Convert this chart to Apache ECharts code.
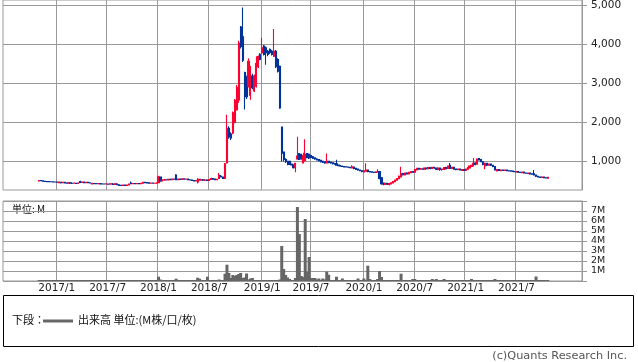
<!DOCTYPE html>
<html><head><meta charset="utf-8">
<script src="https://cdn.jsdelivr.net/npm/echarts@6/dist/echarts.min.js"></script>
<style>html,body{margin:0;padding:0;background:#fff}#c{width:638px;height:362px}</style>
</head><body><div id="c"></div>
<script>
// Axis span: weekly categories starting Monday 2016-06-27
const firstWeek = [2016, 6, 27];
const weekCount = 296;
const dataStartWeek = 18; // first candle: week of 2016-10-31
const tickLabels = ['2017/1','2017/7','2018/1','2018/7','2019/1','2019/7','2020/1','2020/7','2021/1','2021/7'];
const priceTicks = [1000, 2000, 3000, 4000, 5000];

const opens = [
500,510,500,490,485,480,478,475,472,470,
455,465,450,460,445,440,448,440,438,440,
435,480,460,468,455,460,450,420,432,428,
425,430,422,420,418,420,415,425,420,410,
420,400,385,380,390,385,395,445,425,430,
425,430,425,440,462,455,448,440,445,438,
440,455,600,500,520,530,520,540,530,545,
650,530,545,535,550,540,548,530,520,510,
500,470,540,520,530,515,520,510,535,560,
545,530,560,620,600,560,960,1850,1700,1730,
2000,2330,2580,4450,4200,3280,3130,2930,2700,3190,
2810,2930,3430,3750,3790,3960,3920,3830,3880,3830,
3700,3830,3615,3440,1880,1240,1050,1000,1000,930,
910,850,1060,1200,1180,960,1020,1200,1180,1150,
1120,1090,1060,1050,1030,1000,990,960,1000,975,
965,945,940,905,890,880,870,860,855,850,
830,855,820,800,780,760,730,750,780,740,
730,720,715,720,740,580,440,410,440,410,
420,445,475,515,555,600,690,650,700,680,
710,740,720,780,820,800,810,800,830,815,
840,820,850,830,790,830,790,790,840,820,
900,820,850,800,790,800,770,790,770,800,
830,870,890,960,930,1070,1050,990,880,950,
900,930,900,870,760,790,760,780,765,780,
760,755,750,740,730,740,720,710,725,700,
690,700,680,680,650,620,600,585,600,580,570];
const closes = [
510,505,490,485,480,478,475,472,470,465,
470,450,462,445,440,450,440,438,442,432,
445,460,470,455,462,450,445,435,428,425,
430,422,420,418,422,415,425,420,410,425,
400,385,380,390,385,395,420,425,430,425,
430,425,440,465,455,448,440,445,438,440,
450,600,500,520,530,520,540,530,545,540,
530,545,535,550,540,548,530,520,510,500,
505,540,520,530,515,520,510,535,560,545,
530,540,640,600,560,940,1850,1630,1600,2250,
2570,2900,4040,3950,3600,2800,2660,3570,3400,2890,
3190,3510,3690,3620,3920,3745,3790,3745,3800,3745,
3830,3430,3315,2370,1210,1050,1000,920,930,910,
840,950,1140,1050,1060,1150,1180,1100,1090,1100,
1080,1060,1040,1020,990,980,960,1000,970,960,
940,930,905,890,880,870,860,855,850,840,
860,820,800,780,760,740,760,780,740,730,
720,715,730,740,560,430,420,440,415,430,
450,480,520,560,620,680,660,700,680,720,
740,720,790,820,800,810,800,830,815,840,
820,850,830,800,830,790,800,840,810,880,
820,850,800,790,800,780,790,770,800,840,
880,900,950,920,1060,1040,990,920,950,900,
930,900,870,780,790,770,780,770,780,760,
755,750,740,735,740,720,715,725,700,695,
700,680,670,650,620,600,590,600,580,575,590];
const lows = [
490,495,480,475,470,468,465,462,460,450,
440,430,440,435,430,432,430,430,430,425,
428,455,450,448,445,440,435,410,420,418,
418,415,412,410,410,408,405,412,400,400,
390,375,370,372,375,378,390,415,418,415,
418,418,420,435,445,440,432,432,428,428,
432,450,480,490,505,510,515,520,520,530,
520,520,525,525,528,530,520,510,498,490,
490,430,510,505,500,500,495,505,525,535,
520,520,550,590,550,550,950,1580,1550,1700,
1980,2300,2500,3900,3550,2330,2600,2900,2580,2850,
2780,2900,3400,3600,3760,3720,3480,3700,3760,3720,
3680,3400,3280,2350,1000,1000,960,900,910,900,
820,720,1040,1040,1040,950,1000,1080,1060,1080,
1060,1040,1020,1000,970,960,940,950,950,940,
920,915,895,875,865,855,845,840,835,825,
820,800,780,760,745,720,720,740,720,715,
705,700,705,710,540,400,390,395,395,380,
410,440,470,510,550,590,640,640,660,670,
700,705,710,770,785,790,785,790,800,805,
800,810,810,780,770,760,760,780,790,810,
810,810,790,770,775,765,760,755,760,790,
820,860,870,900,920,1020,980,900,800,880,
890,880,850,770,740,750,750,755,755,745,
740,735,725,720,720,705,700,700,690,680,
680,665,655,640,600,585,575,575,565,560,560];
const highs = [
520,520,505,495,490,488,485,482,480,478,
475,470,468,465,450,455,452,445,448,445,
452,500,475,472,468,465,455,440,438,432,
435,435,428,425,428,425,430,430,425,440,
425,405,392,395,398,400,430,485,438,435,
440,436,445,475,470,460,455,452,450,448,
460,630,610,540,545,540,550,552,560,560,
670,560,555,560,560,555,552,535,525,515,
512,575,545,540,535,530,528,545,580,565,
550,548,700,650,610,960,2200,1900,1750,2280,
2600,2960,4100,4480,4950,3300,3200,3650,3450,3250,
3230,3700,3720,3780,4175,3990,3950,3860,3900,3860,
4400,3860,3650,3460,1880,1250,1080,1010,1010,940,
920,960,1630,1210,1190,1220,1570,1210,1200,1170,
1140,1100,1080,1060,1040,1010,1000,1200,1010,990,
975,960,1040,915,900,890,880,870,865,860,
900,862,830,810,790,770,780,950,790,750,
740,730,740,800,750,600,460,450,450,440,
460,490,530,570,640,860,700,710,720,730,
750,750,800,830,830,830,820,840,840,850,
850,860,860,840,850,840,810,850,860,890,
960,860,855,810,810,810,800,800,810,850,
890,910,1090,980,1070,1090,1060,1000,960,960,
940,940,910,880,800,800,790,790,790,785,
770,765,760,750,750,750,730,735,730,710,
710,710,690,780,660,630,610,620,610,590,600];
const volumesM = [
0.1,0.05,0.03,0.02,0.02,0.03,0.02,0.02,0.03,0.05,
0.05,0.04,0.03,0.04,0.02,0.03,0.03,0.02,0.03,0.04,
0.05,0.08,0.05,0.04,0.03,0.03,0.02,0.04,0.03,0.02,
0.02,0.03,0.02,0.02,0.03,0.02,0.04,0.03,0.03,0.06,
0.04,0.05,0.03,0.03,0.04,0.05,0.08,0.1,0.05,0.04,
0.03,0.04,0.05,0.08,0.05,0.04,0.03,0.04,0.03,0.04,
0.06,0.43,0.15,0.08,0.06,0.05,0.07,0.05,0.06,0.08,
0.23,0.08,0.06,0.07,0.05,0.05,0.06,0.05,0.04,0.05,
0.05,0.33,0.23,0.06,0.05,0.05,0.43,0.08,0.1,0.06,
0.08,0.1,0.15,0.08,0.1,0.73,1.63,0.8,0.3,0.6,
0.5,0.6,0.7,0.8,0.3,0.35,0.75,0.15,0.25,0.3,
0.1,0.08,0.06,0.05,0.05,0.05,0.04,0.05,0.04,0.05,
0.1,0.06,0.08,0.15,3.5,1.2,0.6,0.35,0.2,0.08,
0.1,0.3,7.4,4.7,0.5,0.4,6.2,0.9,2.4,0.3,
0.3,0.3,0.15,0.25,0.1,0.25,0.15,0.93,0.63,0.1,
0.08,0.1,0.43,0.1,0.08,0.25,0.06,0.05,0.06,0.05,
0.1,0.06,0.05,0.25,0.06,0.05,0.25,0.1,1.53,0.2,
0.1,0.08,0.08,0.2,1.0,0.4,0.1,0.08,0.06,0.05,
0.05,0.06,0.05,0.08,0.1,0.73,0.1,0.05,0.06,0.05,
0.05,0.2,0.2,0.08,0.06,0.05,0.05,0.04,0.05,0.04,
0.05,0.2,0.05,0.2,0.05,0.04,0.05,0.2,0.06,0.08,
0.1,0.05,0.04,0.04,0.05,0.04,0.04,0.05,0.04,0.05,
0.06,0.2,0.1,0.08,0.1,0.08,0.06,0.05,0.06,0.05,
0.04,0.05,0.05,0.2,0.05,0.04,0.04,0.03,0.04,0.03,
0.03,0.03,0.04,0.03,0.04,0.03,0.03,0.04,0.03,0.03,
0.03,0.04,0.03,0.08,0.45,0.06,0.04,0.03,0.04,0.03,0.05];

// weekly category labels
const cats = [];
{
  let t = Date.UTC(firstWeek[0], firstWeek[1]-1, firstWeek[2]);
  for (let k = 0; k < weekCount; k++) {
    const d = new Date(t);
    cats.push(d.getUTCFullYear() + '-' + (d.getUTCMonth()+1) + '-' + d.getUTCDate());
    t += 7*86400000;
  }
}
function monthLabel(v) {
  const p = String(v).split('-');
  return (+p[2] <= 7) ? (p[0] + '/' + (+p[1])) : '';
}
function isTick(idx, v) { return tickLabels.indexOf(monthLabel(v)) >= 0; }

const pad = new Array(dataStartWeek).fill('-');
const candleData = pad.concat(opens.map((o, i) => [o, closes[i], lows[i], highs[i]]));
const volData = pad.concat(volumesM);

const numFont = 'DejaVu Sans';
const gridColor = '#999';

const chart = echarts.init(document.getElementById('c'), null, {renderer: 'canvas'});
chart.setOption({
  animation: false,
  backgroundColor: '#fff',
  grid: [
    {left: 3, right: 56, top: 0, height: 190, show: true, borderColor: gridColor, borderWidth: 1, backgroundColor: 'transparent'},
    {left: 3, right: 56, top: 201, height: 80, show: true, borderColor: gridColor, borderWidth: 1, backgroundColor: 'transparent'}
  ],
  xAxis: [
    {type: 'category', gridIndex: 0, data: cats, boundaryGap: true,
     axisLine: {show: false}, axisTick: {show: false}, axisLabel: {show: false},
     splitLine: {show: true, interval: isTick, lineStyle: {color: gridColor, width: 1}}},
    {type: 'category', gridIndex: 1, data: cats, boundaryGap: true,
     axisLine: {show: false}, axisTick: {show: false},
     axisLabel: {show: true, interval: isTick, formatter: monthLabel, fontFamily: numFont, fontSize: 10.5, color: '#222', margin: 2},
     splitLine: {show: true, interval: isTick, lineStyle: {color: gridColor, width: 1}}}
  ],
  yAxis: [
    {type: 'value', gridIndex: 0, position: 'right', min: 265, max: 5145,
     axisLine: {show: true, lineStyle: {color: gridColor}},
     axisTick: {show: true, length: 5, inside: false, customValues: priceTicks, lineStyle: {color: gridColor}},
     axisLabel: {show: true, customValues: priceTicks, margin: 9, fontFamily: numFont, fontSize: 10.5, color: '#222',
       formatter: v => (v % 1000 === 0 && v >= 1000) ? v.toLocaleString('en-US') : ''},
     splitLine: {show: true, lineStyle: {color: gridColor, width: 1}}},
    {type: 'value', gridIndex: 1, position: 'right', min: 0, max: 8, interval: 1,
     axisLine: {show: true, lineStyle: {color: gridColor}},
     axisTick: {show: true, length: 5, lineStyle: {color: gridColor}},
     axisLabel: {show: true, margin: 9, fontFamily: numFont, fontSize: 9.5, color: '#222', lineHeight: 10,
       formatter: v => (v >= 1 && v <= 7) ? v + 'M' : ''},
     splitLine: {show: true, lineStyle: {color: gridColor, width: 1}}}
  ],
  series: [
    {type: 'candlestick', xAxisIndex: 0, yAxisIndex: 0, data: candleData, barWidth: 1.6,
     itemStyle: {color: '#ff0033', color0: '#003399', borderColor: '#ff0033', borderColor0: '#003399', borderWidth: 1.1}},
    {type: 'bar', xAxisIndex: 1, yAxisIndex: 1, data: volData, barWidth: 3, barMinHeight: 1,
     itemStyle: {color: '#666'}}
  ],
  graphic: [
    {type: 'text', left: 12, top: 204, style: {text: '単位: M', font: '10px "Noto Sans CJK JP"', fill: '#111'}},
    {type: 'rect', shape: {x: 3.5, y: 295.5, width: 630, height: 51}, style: {fill: 'none', stroke: '#000', lineWidth: 1}},
    {type: 'text', left: 12, top: 314, style: {text: '下段：', font: '11px "Noto Sans CJK JP"', fill: '#111'}},
    {type: 'rect', shape: {x: 43, y: 319.5, width: 30, height: 3}, style: {fill: '#666'}},
    {type: 'text', left: 78, top: 314, style: {text: '出来高 単位:(M株/口/枚)', font: '11px "Noto Sans CJK JP"', fill: '#111'}},
    {type: 'text', right: 11, top: 351, style: {text: '(c)Quants Research Inc.', font: '11.3px "DejaVu Sans"', fill: '#555'}}
  ]
});
</script></body></html>
